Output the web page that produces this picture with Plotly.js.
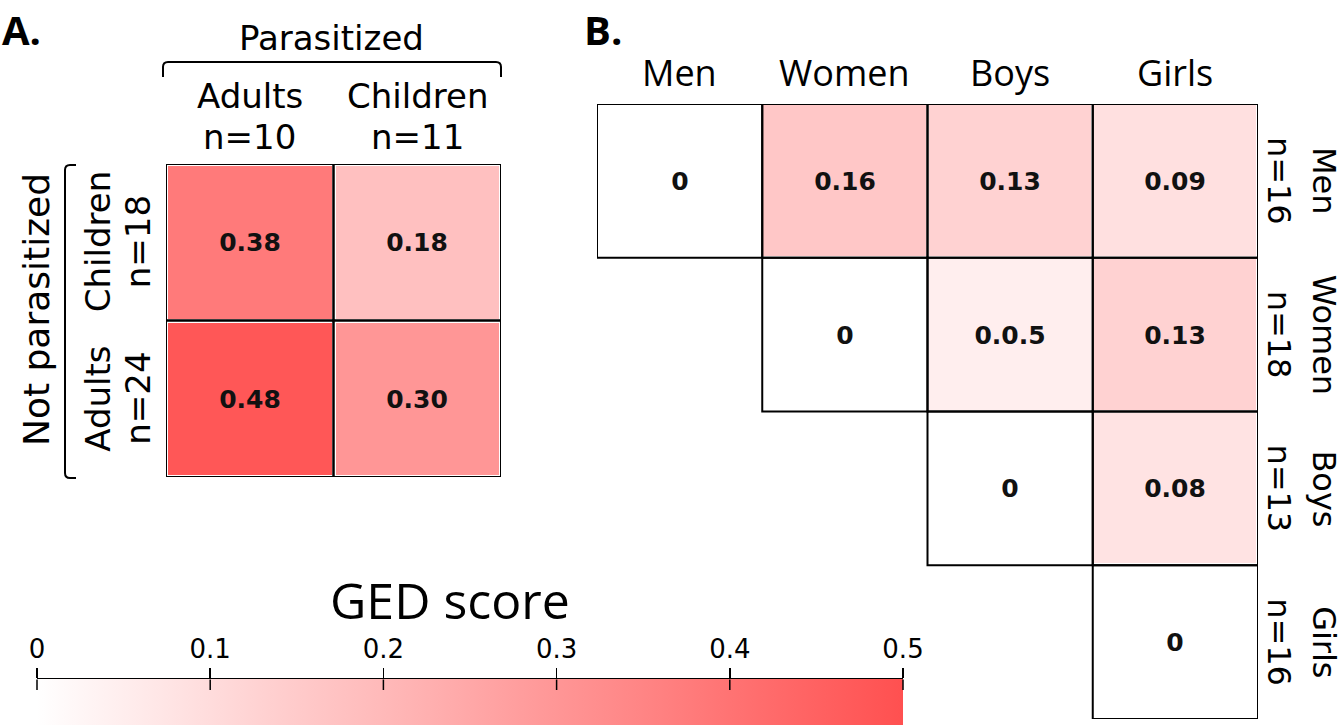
<!DOCTYPE html>
<html>
<head>
<meta charset="utf-8">
<script src="https://cdn.plot.ly/plotly-3.0.1.min.js"></script>
<style>html,body{margin:0;padding:0;background:#fff}#chart{width:1344px;height:727px}</style>
</head>
<body>
<div id="chart"></div>
<script>
// ---------- DATA ----------
// Panel A: rows (bottom -> top) = Not parasitized groups, columns = Parasitized groups
const aCols = ['Adults', 'Children'];
const aColN = ['n=10', 'n=11'];
const aRows = ['Adults', 'Children'];
const aRowN = ['n=24', 'n=18'];
const aZ = [
  [0.48, 0.30],
  [0.38, 0.18]
];
const aText = [
  ['0.48', '0.30'],
  ['0.38', '0.18']
];

// Panel B: upper-triangular matrix
const bGroups = ['Men', 'Women', 'Boys', 'Girls'];
const bN = ['n=16', 'n=18', 'n=13', 'n=16'];
const bZ = [
  [0, 0.16, 0.13, 0.09],
  [null, 0, 0.05, 0.13],
  [null, null, 0, 0.08],
  [null, null, null, 0]
];
const bText = [
  ['0', '0.16', '0.13', '0.09'],
  ['', '0', '0.0.5', '0.13'],
  ['', '', '0', '0.08'],
  ['', '', '', '0']
];

// Colour scale
const gedTicks = [0, 0.1, 0.2, 0.3, 0.4, 0.5];
const gedMin = 0, gedMax = 0.5;

// ---------- LAYOUT HELPERS ----------
const W = 1344, H = 727;
const px = x => x / W;
const py = y => 1 - y / H;

const labelFont = 'DejaVu Sans, sans-serif';
const narrowFont = 'Liberation Sans Narrow, Open Sans, sans-serif';
const valFont = {family: 'DejaVu Sans, sans-serif', size: 25, color: '#111'};

const traces = [
  {
    type: 'heatmap', x: aCols, y: aRows, z: aZ, text: aText,
    texttemplate: '<b>%{text}</b>', textfont: valFont,
    coloraxis: 'coloraxis', xgap: 4, ygap: 4, hoverinfo: 'skip',
    xaxis: 'x', yaxis: 'y'
  },
  {
    type: 'heatmap', x: bGroups, y: bGroups, z: bZ, text: bText,
    texttemplate: '<b>%{text}</b>', textfont: valFont,
    coloraxis: 'coloraxis', xgap: 3, ygap: 3, hoverinfo: 'skip',
    xaxis: 'x2', yaxis: 'y2'
  },
  {type: 'scatter', x: [], y: [], xaxis: 'x3', yaxis: 'y3', showlegend: false, hoverinfo: 'skip'}
];

const hidden = {showticklabels: false, showgrid: false, zeroline: false, showline: false, ticks: '', fixedrange: true};

const shapes = [];
// cell outlines panel A
aZ.forEach((row, j) => row.forEach((v, i) => {
  shapes.push({type: 'rect', xref: 'x', yref: 'y', x0: i - 0.5, x1: i + 0.5, y0: j - 0.5, y1: j + 0.5,
    line: {color: '#000', width: 2}});
}));
// cell outlines panel B (only filled cells)
bZ.forEach((row, j) => row.forEach((v, i) => {
  if (v === null) return;
  shapes.push({type: 'rect', xref: 'x2', yref: 'y2', x0: i - 0.5, x1: i + 0.5, y0: j - 0.5, y1: j + 0.5,
    line: {color: '#000', width: 2}});
}));
// brace over "Parasitized"
shapes.push({type: 'path', xref: 'paper', yref: 'paper',
  path: `M ${px(163)} ${py(77)} L ${px(163)} ${py(67)} Q ${px(163)} ${py(62)} ${px(168)} ${py(62)} L ${px(496)} ${py(62)} Q ${px(501)} ${py(62)} ${px(501)} ${py(67)} L ${px(501)} ${py(77)}`,
  line: {color: '#000', width: 2}});
// brace beside "Not parasitized"
shapes.push({type: 'path', xref: 'paper', yref: 'paper',
  path: `M ${px(76)} ${py(165)} L ${px(70)} ${py(165)} Q ${px(65)} ${py(165)} ${px(65)} ${py(170)} L ${px(65)} ${py(473)} Q ${px(65)} ${py(478)} ${px(70)} ${py(478)} L ${px(76)} ${py(478)}`,
  line: {color: '#000', width: 2}});

const ann = [];
const addAnn = o => ann.push(Object.assign({showarrow: false, xanchor: 'center', yanchor: 'middle'}, o));

addAnn({text: '<b>A.</b>', xref: 'paper', yref: 'paper', x: px(0), xanchor: 'left', y: py(0), yanchor: 'top', font: {family: 'Open Sans, sans-serif', size: 40, color: '#000'}});
addAnn({text: '<b>B.</b>', xref: 'paper', yref: 'paper', x: px(582), xanchor: 'left', y: py(0), yanchor: 'top', font: {family: 'Open Sans, sans-serif', size: 40, color: '#000'}});

addAnn({text: 'Parasitized', xref: 'paper', yref: 'paper', x: px(331), y: py(38), font: {family: labelFont, size: 34, color: '#000'}});
aCols.forEach((c, i) => {
  addAnn({text: c, xref: 'x', yref: 'paper', x: i, y: py(96), font: {family: labelFont, size: 34, color: '#000'}});
  addAnn({text: aColN[i], xref: 'x', yref: 'paper', x: i, y: py(137), font: {family: labelFont, size: 34, color: '#000'}});
});
addAnn({text: 'Not parasitized', xref: 'paper', yref: 'paper', x: px(37), y: py(310), textangle: -90, font: {family: labelFont, size: 36, color: '#000'}});
aRows.forEach((r, j) => {
  addAnn({text: r, xref: 'paper', yref: 'y', x: px(98), y: j, textangle: -90, font: {family: labelFont, size: 34, color: '#000'}});
  addAnn({text: aRowN[j], xref: 'paper', yref: 'y', x: px(138), y: j, textangle: -90, font: {family: labelFont, size: 34, color: '#000'}});
});

bGroups.forEach((g, i) => {
  addAnn({text: g, xref: 'x2', yref: 'paper', x: i, y: py(73), font: {family: narrowFont, size: 36, color: '#000'}});
  addAnn({text: g, xref: 'paper', yref: 'y2', x: px(1324), y: i, textangle: 90, font: {family: labelFont, size: 32, color: '#000'}});
  addAnn({text: bN[i], xref: 'paper', yref: 'y2', x: px(1279), y: i, textangle: 90, font: {family: labelFont, size: 32, color: '#000'}});
});

addAnn({text: 'GED score', xref: 'paper', yref: 'paper', x: px(450), y: py(600), font: {family: narrowFont, size: 50, color: '#000'}});

// lower half of the crossing colour-scale ticks (drawn over the gradient)
gedTicks.forEach(v => {
  ann.push({text: '', xref: 'x3', yref: 'paper', x: v, y: py(690), showarrow: true, arrowhead: 0,
    arrowwidth: 1.5, arrowcolor: '#000', ax: 0, ay: -12, standoff: 0, startstandoff: 0});
});

const cbLeft = 37, cbRight = 903;
const layout = {
  width: W, height: H,
  margin: {l: 0, r: 0, t: 0, b: 0},
  paper_bgcolor: '#fff', plot_bgcolor: '#fff',
  showlegend: false,
  xaxis: Object.assign({}, hidden, {domain: [px(166), px(501)], anchor: 'y', range: [-0.5, 1.5]}),
  yaxis: Object.assign({}, hidden, {domain: [py(477), py(164)], anchor: 'x', range: [-0.5, 1.5]}),
  xaxis2: Object.assign({}, hidden, {domain: [px(597), px(1258)], anchor: 'y2', range: [-0.5, 3.5]}),
  yaxis2: Object.assign({}, hidden, {domain: [py(719), py(104)], anchor: 'x2', range: [3.5, -0.5]}),
  xaxis3: {domain: [px(cbLeft), px(cbRight)], anchor: 'free', position: py(678), side: 'top',
    range: [gedMin, gedMax], tickvals: gedTicks, ticktext: gedTicks.map(String),
    showline: true, linecolor: '#000', linewidth: 1.5, ticks: 'outside', ticklen: 10, tickwidth: 1.5, tickcolor: '#000',
    showgrid: false, zeroline: false, fixedrange: true, ticklabelstandoff: 0,
    tickfont: {family: labelFont, size: 26, color: '#000'}},
  yaxis3: Object.assign({}, hidden, {domain: [0, 0.05], anchor: 'x3', range: [0, 1]}),
  coloraxis: {
    cmin: gedMin, cmax: gedMax,
    colorscale: [[0, '#ffffff'], [1, '#ff5050']],
    colorbar: {
      orientation: 'h', x: px(cbLeft), xanchor: 'left', xref: 'paper',
      y: py(725), yanchor: 'bottom', yref: 'paper',
      len: (cbRight - cbLeft) / W, lenmode: 'fraction', thickness: 46, thicknessmode: 'pixels',
      xpad: 0, ypad: 0, outlinewidth: 0, borderwidth: 0,
      showticklabels: false, ticks: '', title: {text: ''}
    }
  },
  shapes: shapes,
  annotations: ann
};

Plotly.newPlot('chart', traces, layout, {displayModeBar: false, staticPlot: true});
</script>
</body>
</html>
